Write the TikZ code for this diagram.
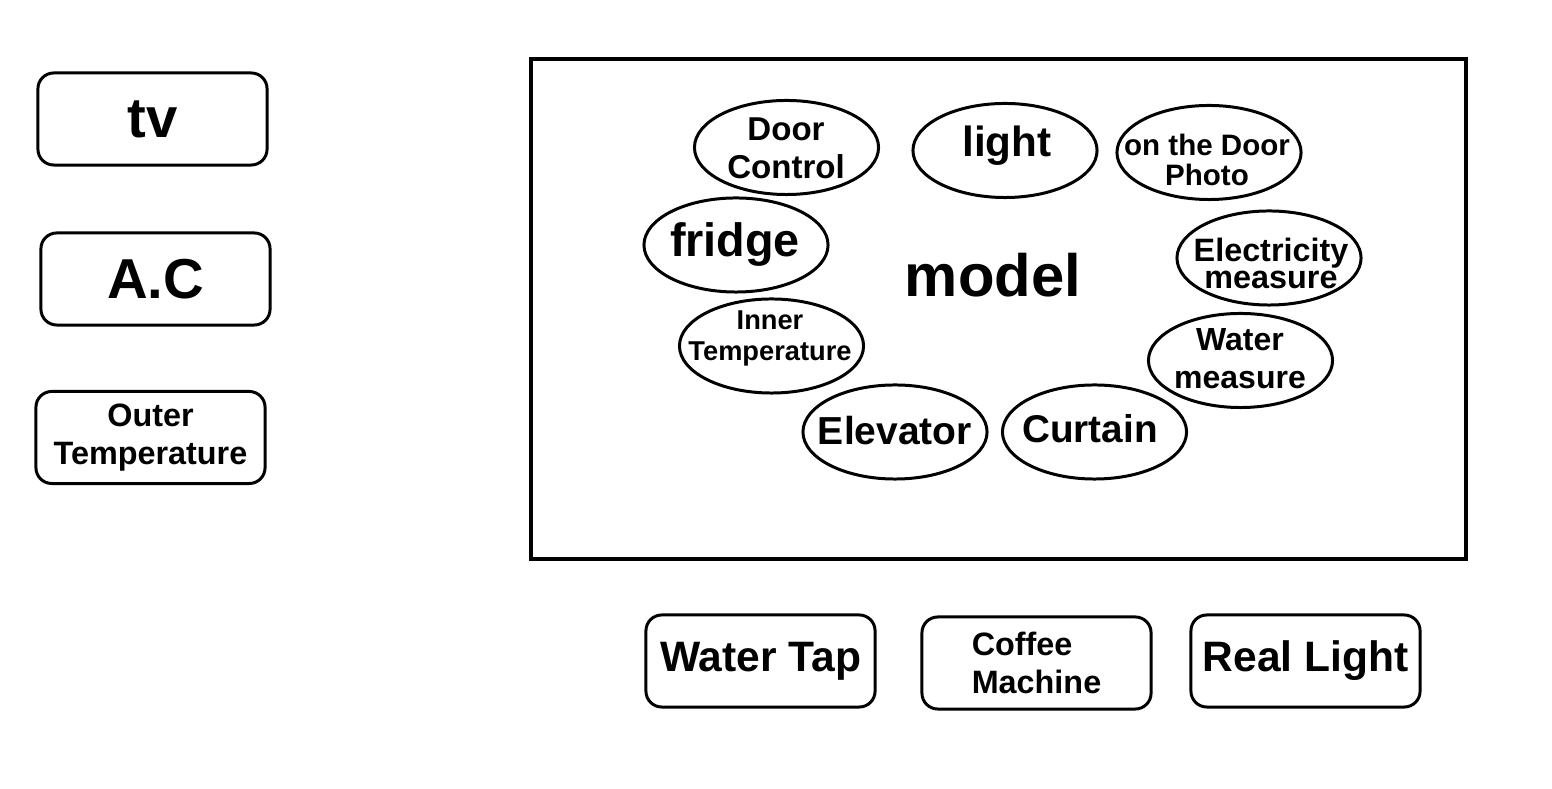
\documentclass[tikz,border=0pt]{standalone}
\usepackage{fontspec}
\setmainfont{Liberation Sans}
\usetikzlibrary{shapes.geometric}
\tikzset{
  device/.style={draw, line width=0.85pt, rounded corners=4.5pt, minimum width=2.29cm,
                 minimum height=0.92cm, inner sep=0pt, align=center},
  oval/.style={draw, line width=0.85pt, ellipse, minimum width=1.84cm, minimum height=0.94cm, inner sep=0pt},
  lbl/.style={inner sep=0pt, align=center},
  frame/.style={draw, line width=1.1pt, minimum width=9.35cm, minimum height=5cm, inner sep=0pt},
}
\newcommand{\fs}[2]{\bfseries\fontsize{#1}{#2}\selectfont}

\begin{document}
\begin{tikzpicture}[x=0.01cm, y=-0.01cm]
  \useasboundingbox (0,0) rectangle (1552,789);
  % devices on the left
  \node[device, font=\fs{16}{19}] (tv) at (152.5,119) {tv};
  \node[device, font=\fs{16}{19}] (ac) at (155.5,279) {A.C};
  \node[device, font=\fs{9.2}{10.9}] (outer) at (150.5,437.5) {Outer\\Temperature};
  % model frame
  \node[frame] (model) at (998.5,309) {};
  \node[lbl, font=\fs{17}{20}] (modelT) at (993,275) {model};
  % ovals inside the model
  \node[oval] (door) at (786.5,147.5) {};
  \node[lbl, font=\fs{9.4}{10.8}] (doorT) at (786,148) {Door\\Control};
  \node[oval] (light) at (1005,150.5) {};
  \node[lbl, font=\fs{12}{14}] (lightT) at (1007,146) {light};
  \node[oval] (photo) at (1209,152.5) {};
  \node[lbl, font=\fs{8.4}{8.3}] (photoT) at (1207,160) {on the Door\\Photo};
  \node[oval] (fridge) at (736,245) {};
  \node[lbl, font=\fs{13.3}{15}] (fridgeT) at (735,245) {fridge};
  \node[oval] (elec) at (1269,258) {};
  \node[lbl, font=\fs{9.2}{7.7}] (elecT) at (1271,263) {Electricity\\measure};
  \node[oval] (inner) at (771.5,346) {};
  \node[lbl, font=\fs{7.75}{8.8}] (innerT) at (770,338) {Inner\\Temperature};
  \node[oval] (water) at (1240.5,360.5) {};
  \node[lbl, font=\fs{9.1}{10.8}] (waterT) at (1240,359) {Water\\measure};
  \node[oval] (elevator) at (895,432) {};
  \node[lbl, font=\fs{11.1}{13}] (elevatorT) at (895,431) {Elevator};
  \node[oval] (curtain) at (1094.5,432) {};
  \node[lbl, font=\fs{11}{13}] (curtainT) at (1090,429) {Curtain};
  % devices below
  \node[device, font=\fs{12.1}{14}] (tap) at (760.5,661) {Water Tap};
  \node[device, font=\fs{9.2}{10.9}, align=left] (coffee) at (1036.5,663) {Coffee\\Machine};
  \node[device, font=\fs{12.1}{14}] (real) at (1305.5,661) {Real Light};
\end{tikzpicture}
\end{document}
